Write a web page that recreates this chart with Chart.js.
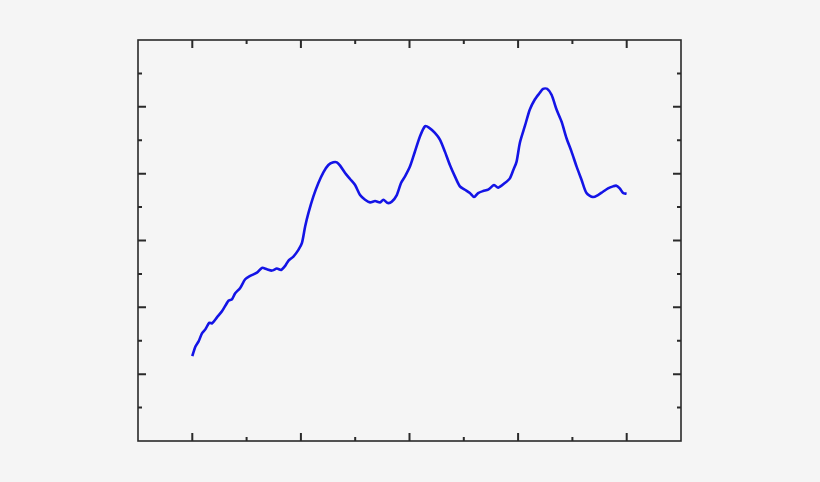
<!DOCTYPE html>
<html>
<head>
<meta charset="utf-8">
<script src="https://cdn.jsdelivr.net/npm/chart.js@4"></script>
<style>
  html, body { margin: 0; padding: 0; background: #f5f5f5; }
  #wrap { width: 820px; height: 482px; position: relative; }
</style>
</head>
<body>
<div id="wrap"><canvas id="myChart"></canvas></div>
<script>
// curve (x in major-tick units, y in major-tick units)
const xValues = [0, 0.028, 0.058, 0.089, 0.12, 0.156, 0.181, 0.227, 0.273, 0.334, 0.365, 0.395, 0.441, 0.487, 0.533, 0.595, 0.641, 0.687, 0.733, 0.779, 0.818, 0.855, 0.886, 0.931, 0.977, 1.009, 1.039, 1.069, 1.115, 1.161, 1.207, 1.253, 1.299, 1.331, 1.361, 1.407, 1.453, 1.499, 1.545, 1.591, 1.637, 1.683, 1.729, 1.759, 1.8, 1.836, 1.883, 1.922, 1.959, 2.005, 2.048, 2.097, 2.143, 2.179, 2.234, 2.28, 2.326, 2.372, 2.418, 2.464, 2.51, 2.556, 2.595, 2.632, 2.678, 2.724, 2.779, 2.816, 2.878, 2.924, 2.955, 2.986, 3.016, 3.062, 3.108, 3.154, 3.2, 3.23, 3.267, 3.308, 3.354, 3.4, 3.446, 3.492, 3.538, 3.584, 3.63, 3.69, 3.736, 3.782, 3.828, 3.874, 3.905, 3.936, 3.967, 3.999];
const yValues = [1.27, 1.41, 1.49, 1.61, 1.67, 1.77, 1.76, 1.85, 1.94, 2.10, 2.12, 2.21, 2.29, 2.42, 2.47, 2.52, 2.59, 2.57, 2.55, 2.58, 2.56, 2.62, 2.70, 2.76, 2.86, 2.96, 3.21, 3.41, 3.66, 3.86, 4.02, 4.13, 4.17, 4.17, 4.12, 4.01, 3.92, 3.83, 3.68, 3.61, 3.57, 3.59, 3.57, 3.61, 3.56, 3.58, 3.68, 3.86, 3.96, 4.11, 4.32, 4.56, 4.71, 4.69, 4.61, 4.51, 4.33, 4.13, 3.96, 3.81, 3.76, 3.71, 3.65, 3.71, 3.74, 3.76, 3.83, 3.79, 3.86, 3.93, 4.05, 4.18, 4.46, 4.71, 4.96, 5.11, 5.21, 5.27, 5.27, 5.18, 4.96, 4.78, 4.53, 4.33, 4.11, 3.91, 3.71, 3.65, 3.68, 3.73, 3.78, 3.81, 3.82, 3.78, 3.71, 3.70];

const xMajorTicks = [0, 1, 2, 3, 4];
const xMinorTicks = [0.5, 1.5, 2.5, 3.5];
const yMajorTicks = [1, 2, 3, 4, 5];
const yMinorTicks = [0.5, 1.5, 2.5, 3.5, 4.5, 5.5];

const points = xValues.map((x, i) => ({ x: x, y: yValues[i] }));

// frame with ticks pointing inward on all four sides
const frameTicks = {
  id: 'frameTicks',
  afterDraw(chart) {
    const c = chart.ctx;
    const a = chart.chartArea;
    const xs = chart.scales.x, ys = chart.scales.y;
    c.save();
    c.strokeStyle = '#2a2a2a';
    c.lineWidth = 2;
    c.beginPath();
    function xt(v, len) {
      const p = xs.getPixelForValue(v);
      c.moveTo(p, a.bottom); c.lineTo(p, a.bottom - len);
      c.moveTo(p, a.top); c.lineTo(p, a.top + len);
    }
    function yt(v, len) {
      const p = ys.getPixelForValue(v);
      c.moveTo(a.left, p); c.lineTo(a.left + len, p);
      c.moveTo(a.right, p); c.lineTo(a.right - len, p);
    }
    xMajorTicks.forEach(v => xt(v, 8));
    xMinorTicks.forEach(v => xt(v, 4));
    yMajorTicks.forEach(v => yt(v, 8));
    yMinorTicks.forEach(v => yt(v, 4));
    c.stroke();
    c.lineWidth = 1.6;
    c.strokeRect(a.left, a.top, a.right - a.left, a.bottom - a.top);
    c.restore();
  }
};

const ctx = document.getElementById('myChart');

new Chart(ctx, {
  type: 'line',
  data: {
    datasets: [
      {
        data: points,
        borderColor: '#1414e6',
        borderWidth: 2.6,
        pointRadius: 0,
        tension: 0.25,
        fill: false
      }
    ]
  },
  options: {
    responsive: true,
    maintainAspectRatio: false,
    animation: false,
    layout: {
      padding: { left: 138, right: 139, top: 40, bottom: 41 }
    },
    plugins: {
      legend: { display: false },
      tooltip: { enabled: false }
    },
    scales: {
      x: { type: 'linear', min: -0.5, max: 4.5, display: false },
      y: { type: 'linear', min: 0, max: 6, display: false }
    }
  },
  plugins: [frameTicks]
});
</script>
</body>
</html>
